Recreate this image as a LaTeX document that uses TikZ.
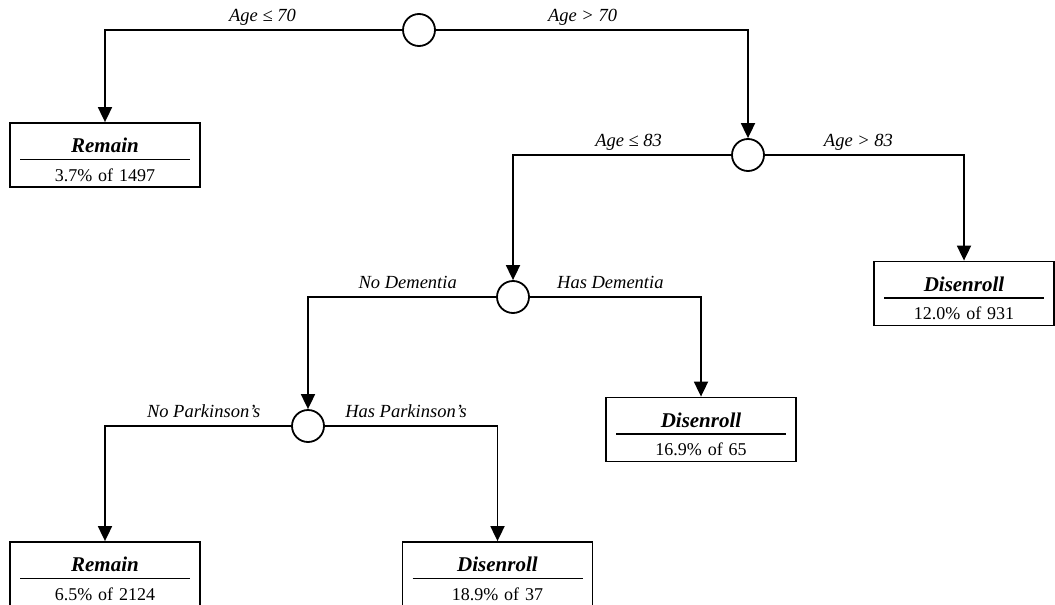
\documentclass[tikz,border=0pt]{standalone}
\usepackage{fontspec}
\setmainfont{Liberation Serif}
\usetikzlibrary{arrows.meta, positioning}

\newcommand{\leaftitle}{\fontsize{21}{24}\selectfont\bfseries\itshape}
\newcommand{\leaf}[2]{{\leaftitle\rule{0pt}{24pt}#1\par}\vspace{6pt}\hrule height 1.6pt\vspace{8pt}#2}

\tikzset{
    splitnode/.style={circle, draw, line width=1.8pt, minimum size=32pt, inner sep=0pt},
    leafnode/.style={draw, line width=1.8pt, text width=170pt, inner xsep=10pt, inner ysep=0pt,
        minimum height=64pt, align=center, font=\fontsize{18}{21}\selectfont},
    branch/.style={line width=1.8pt, -{Triangle[length=15pt, width=14pt]}},
    cond/.style={above, pos=0.235, inner sep=4pt, text depth=4pt, font=\fontsize{18.5}{21}\selectfont\itshape},
}

\begin{document}
\begin{tikzpicture}[x=1pt, y=-1pt]
    \useasboundingbox (0,0) rectangle (1055,605);

    % splits
    \node[splitnode] (age70) at (419,30) {};
    \node[splitnode] (age83) at (748,155) {};
    \node[splitnode] (dem) at (513,297) {};
    \node[splitnode] (park) at (308,426) {};

    % leaves
    \node[leafnode] (remainA) at (105,155) {\leaf{Remain}{3.7\% of 1497}};
    \node[leafnode, text width=160pt] (disB) at (964,293.5) {\leaf{Disenroll}{12.0\% of 931}};
    \node[leafnode] (disC) at (701,429.5) {\leaf{Disenroll}{16.9\% of 65}};
    \node[leafnode] (remainD) at (105,574) {\leaf{Remain}{6.5\% of 2124}};
    \node[leafnode] (disE) at (497.5,574) {\leaf{Disenroll}{18.9\% of 37}};

    \draw[branch] (age70.west) -| (remainA.north) node[cond] {Age ≤ 70};
    \draw[branch] (age70.east) -| (age83.north) node[cond] {Age > 70};
    \draw[branch] (age83.west) -| (dem.north) node[cond] {Age ≤ 83};
    \draw[branch] (age83.east) -| (disB.north) node[cond] {Age > 83};
    \draw[branch] (dem.west) -| (park.north) node[cond] {No Dementia};
    \draw[branch] (dem.east) -| (disC.north) node[cond] {Has Dementia};
    \draw[branch] (park.west) -| (remainD.north) node[cond] {No Parkinson's};
    \draw[branch] (park.east) -| (disE.north) node[cond] {Has Parkinson's};
\end{tikzpicture}
\end{document}
